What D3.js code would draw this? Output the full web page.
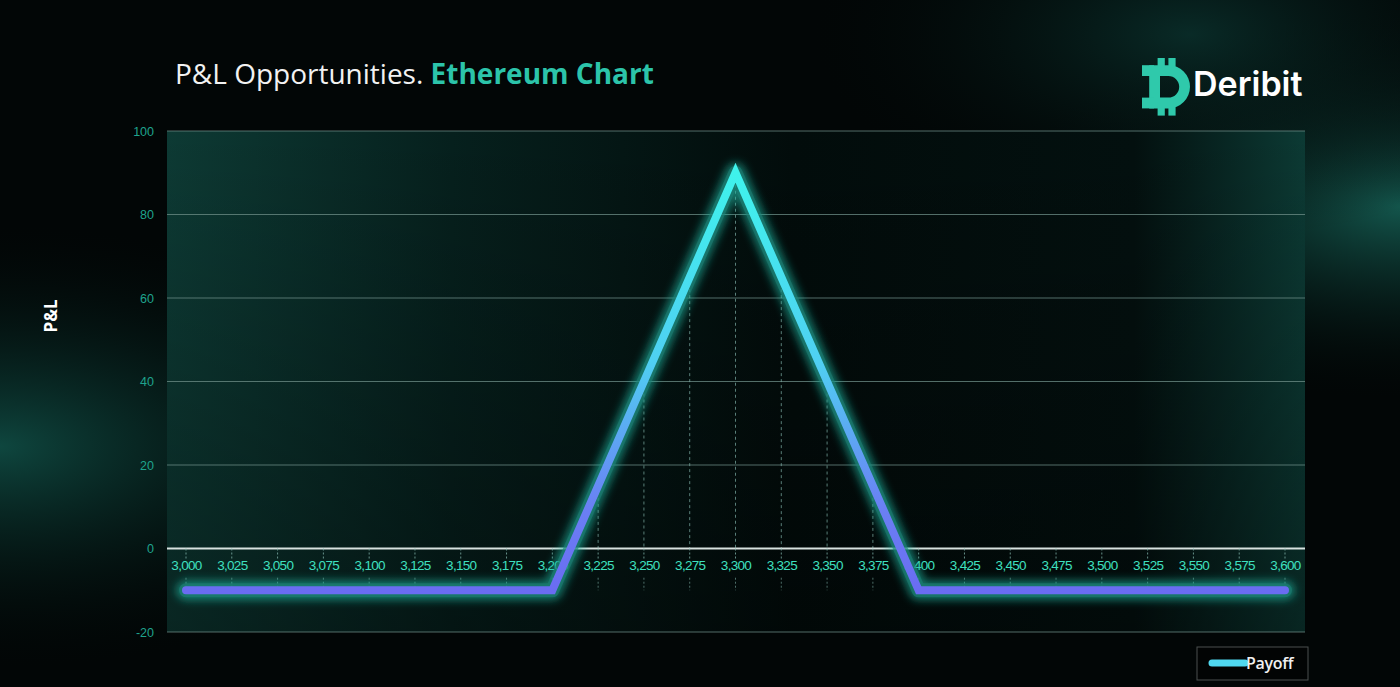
<!DOCTYPE html>
<html><head><meta charset="utf-8">
<script src="https://cdn.jsdelivr.net/npm/d3@7"></script>
<style>html,body{margin:0;padding:0;background:#000;overflow:hidden}</style>
</head><body>
<svg id="c" width="1400" height="687"></svg>
<script>
const prices = [3000,3025,3050,3075,3100,3125,3150,3175,3200,3225,3250,3275,3300,3325,3350,3375,3400,3425,3450,3475,3500,3525,3550,3575,3600];
const payoff = [-10,-10,-10,-10,-10,-10,-10,-10,-10,15,40,65,90,65,40,15,-10,-10,-10,-10,-10,-10,-10,-10,-10];
const yTicks = [-20,0,20,40,60,80,100];
const seriesName = "Payoff";

const svg = d3.select("#c");
const W=1400,H=687;
const defs = svg.append("defs");

// page background glows
const rg1 = defs.append("radialGradient").attr("id","g1").attr("cx",0.0).attr("cy",0.65).attr("r",0.35);
rg1.append("stop").attr("offset",0).attr("stop-color","#0f4a42").attr("stop-opacity",0.95);
rg1.append("stop").attr("offset",1).attr("stop-color","#000").attr("stop-opacity",0);
const rg2 = defs.append("radialGradient").attr("id","g2").attr("cx",1.0).attr("cy",0.3).attr("r",0.3);
rg2.append("stop").attr("offset",0).attr("stop-color","#145a50").attr("stop-opacity",0.95);
rg2.append("stop").attr("offset",1).attr("stop-color","#000").attr("stop-opacity",0);
const rg3 = defs.append("radialGradient").attr("id","g3").attr("cx",0.85).attr("cy",0.05).attr("r",0.3);
rg3.append("stop").attr("offset",0).attr("stop-color","#0c3a35").attr("stop-opacity",0.7);
rg3.append("stop").attr("offset",1).attr("stop-color","#000").attr("stop-opacity",0);
svg.append("rect").attr("width",W).attr("height",H).attr("fill","#020606");
svg.append("rect").attr("width",W).attr("height",H).attr("fill","url(#g1)");
svg.append("rect").attr("width",W).attr("height",H).attr("fill","url(#g2)");
svg.append("rect").attr("width",W).attr("height",H).attr("fill","url(#g3)");

const x = d3.scaleLinear().domain([3000,3600]).range([186,1285]);
const y = d3.scaleLinear().domain([-20,100]).range([632,131]);
const plotL=167, plotR=1305;

// plot background
const pg = defs.append("linearGradient").attr("id","pg").attr("x1",0).attr("x2",1).attr("y1",0).attr("y2",0);
pg.append("stop").attr("offset",0).attr("stop-color","#0d3a34");
pg.append("stop").attr("offset",0.25).attr("stop-color","#06201d");
pg.append("stop").attr("offset",0.55).attr("stop-color","#020c0b");
pg.append("stop").attr("offset",0.85).attr("stop-color","#03100f");
pg.append("stop").attr("offset",1).attr("stop-color","#0c3a34");
const pv = defs.append("linearGradient").attr("id","pv").attr("x1",0).attr("x2",0).attr("y1",0).attr("y2",1);
pv.append("stop").attr("offset",0).attr("stop-color","#000").attr("stop-opacity",0);
pv.append("stop").attr("offset",1).attr("stop-color","#000").attr("stop-opacity",0.35);
svg.append("rect").attr("x",plotL).attr("y",y(100)).attr("width",plotR-plotL).attr("height",y(-20)-y(100)).attr("fill","url(#pg)");
svg.append("rect").attr("x",plotL).attr("y",y(100)).attr("width",plotR-plotL).attr("height",y(-20)-y(100)).attr("fill","url(#pv)");

// gridlines
svg.append("g").selectAll("line").data(yTicks.filter(d=>d!==0)).join("line")
  .attr("x1",plotL).attr("x2",plotR).attr("y1",d=>y(d)).attr("y2",d=>y(d))
  .attr("stroke","#6f8f88").attr("stroke-opacity",0.75).attr("stroke-width",1.2);

// y axis labels
const yAxis = d3.axisLeft(y).tickValues(yTicks).tickFormat(d=>String(d)).tickSize(0).tickPadding(0);
const yg = svg.append("g").attr("transform","translate(154,0)").call(yAxis);
yg.select(".domain").remove();
yg.selectAll("text").attr("fill","#1fa38d").attr("font-family","'Liberation Sans Narrow','Liberation Sans',sans-serif").attr("font-size",12.5);

// drop lines (dashed) from points to zero
svg.append("g").selectAll("line").data(prices.map((p,i)=>[p,payoff[i]]).filter(d=>d[1]>0)).join("line")
  .attr("x1",d=>x(d[0])).attr("x2",d=>x(d[0])).attr("y1",d=>y(d[1])).attr("y2",y(0))
  .attr("stroke","#7fb0a8").attr("stroke-width",1).attr("stroke-dasharray","3,3").attr("opacity",0.7);

// zero axis
svg.append("line").attr("x1",plotL).attr("x2",plotR).attr("y1",y(0)).attr("y2",y(0)).attr("stroke","#d8e2df").attr("stroke-width",1.8);

// x tick marks (dashed below axis)
svg.append("g").selectAll("line").data(prices).join("line")
  .attr("x1",d=>x(d)).attr("x2",d=>x(d)).attr("y1",y(0)).attr("y2",y(0)+10)
  .attr("stroke","#7fb0a8").attr("stroke-width",1).attr("stroke-dasharray","2,2").attr("opacity",0.8);
svg.append("g").selectAll("line").data(prices).join("line")
  .attr("x1",d=>x(d)).attr("x2",d=>x(d)).attr("y1",y(-7)).attr("y2",y(-10))
  .attr("stroke","#7fb0a8").attr("stroke-width",1).attr("stroke-dasharray","2,2").attr("opacity",0.6);

// x labels
const fmt = d3.format(",");
const xAxis = d3.axisBottom(x).tickValues(prices).tickFormat(fmt).tickSize(0).tickPadding(0);
const xg = svg.append("g").attr("transform",`translate(0,${y(0)+12})`).call(xAxis);
xg.select(".domain").remove();
xg.selectAll("text").attr("fill","#3fe0c0").attr("font-family","'Liberation Sans Narrow','Liberation Sans',sans-serif").attr("font-size",13.5).attr("letter-spacing","-0.7px");

// payoff line
const lg = defs.append("linearGradient").attr("id","lg").attr("gradientUnits","userSpaceOnUse")
  .attr("x1",0).attr("x2",0).attr("y1",y(90)).attr("y2",y(-10));
lg.append("stop").attr("offset",0).attr("stop-color","#3ff2ec");
lg.append("stop").attr("offset",0.45).attr("stop-color","#4fd0f2");
lg.append("stop").attr("offset",0.8).attr("stop-color","#6a80f4");
lg.append("stop").attr("offset",1).attr("stop-color","#6a6cf2");
const f = defs.append("filter").attr("id","glow").attr("x","-10%").attr("y","-20%").attr("width","120%").attr("height","140%");
f.append("feGaussianBlur").attr("stdDeviation",4);
const line = d3.line().x((d,i)=>x(prices[i])).y(d=>y(d));
svg.append("path").datum(payoff).attr("d",line).attr("fill","none").attr("stroke","#1fb8a4").attr("stroke-opacity",0.6)
  .attr("stroke-width",20).attr("stroke-linecap","round").attr("stroke-linejoin","round").attr("filter","url(#glow)");
svg.append("path").datum(payoff).attr("d",line).attr("fill","none").attr("stroke","#1c7f74").attr("stroke-opacity",0.6)
  .attr("stroke-width",14).attr("stroke-linecap","round").attr("stroke-linejoin","round");
svg.append("path").datum(payoff).attr("d",line).attr("fill","none").attr("stroke","url(#lg)")
  .attr("stroke-width",8).attr("stroke-linecap","round").attr("stroke-linejoin","miter");

// title
const t = svg.append("text").attr("x",175).attr("y",84).attr("font-family","'Open Sans',sans-serif").attr("font-size",28);
t.append("tspan").attr("fill","#f2f2f2").text("P&L Opportunities. ");
t.append("tspan").attr("fill","#2cc4aa").attr("font-weight","bold").text("Ethereum Chart");

// y axis title
svg.append("text").attr("transform","translate(57,316) rotate(-90)").attr("text-anchor","middle")
  .attr("fill","#ffffff").attr("font-family","'Open Sans',sans-serif").attr("font-weight","bold").attr("font-size",17).text("P&L");

// logo
const lgG = svg.append("g").attr("transform","translate(1142,58) scale(1.2)");
const tc="#2fc9ab";
lgG.append("path").attr("fill",tc).attr("fill-rule","evenodd")
  .attr("d","M6,6 H22 A18,18 0 0 1 22,42 H6 Z M15,15 V33 H22 A9,9 0 0 0 22,15 Z");
lgG.append("rect").attr("x",0).attr("y",6).attr("width",10).attr("height",9).attr("fill",tc);
lgG.append("rect").attr("x",0).attr("y",33).attr("width",10).attr("height",9).attr("fill",tc);
lgG.append("rect").attr("x",13).attr("y",0).attr("width",6).attr("height",8).attr("fill",tc);
lgG.append("rect").attr("x",22).attr("y",0).attr("width",6).attr("height",8).attr("fill",tc);
lgG.append("rect").attr("x",13).attr("y",40).attr("width",6).attr("height",8).attr("fill",tc);
lgG.append("rect").attr("x",22).attr("y",40).attr("width",6).attr("height",8).attr("fill",tc);
svg.append("text").attr("x",1193).attr("y",96).attr("fill","#ffffff").attr("font-family","Inter,'Open Sans',sans-serif")
  .attr("font-weight","600").attr("font-size",34).text("Deribit");

// legend
svg.append("rect").attr("x",1197).attr("y",647).attr("width",111).attr("height",33).attr("fill","#020404")
  .attr("stroke","#4a4f4e").attr("stroke-width",1);
svg.append("line").attr("x1",1212).attr("x2",1245).attr("y1",663).attr("y2",663).attr("stroke","#4fd8f0").attr("stroke-width",7).attr("stroke-linecap","round");
svg.append("text").attr("x",1246).attr("y",669).attr("fill","#f0f0f0").attr("font-family","'Open Sans',sans-serif").attr("font-weight","600").attr("font-size",16).attr("letter-spacing","-0.3px").text(seriesName);
</script>
</body></html>
